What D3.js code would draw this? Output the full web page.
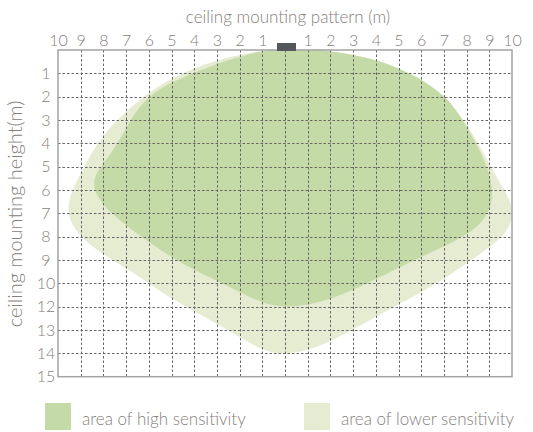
<!DOCTYPE html>
<html>
<head>
<meta charset="utf-8">
<script src="https://cdn.jsdelivr.net/npm/d3@7"></script>
<style>
  body { margin: 0; background: #fff; }
  svg text { font-family: "Lato", "Open Sans", sans-serif; font-weight: 300; fill: #86807c; }
</style>
</head>
<body>
<svg id="chart" width="533" height="432"></svg>
<script>
// horizontal distance from the sensor (m), -10 .. 10
const xTicks = d3.range(-10, 11);
// vertical rows: tick labels as printed (11 is skipped on the original)
const yLabels = ["1", "2", "3", "4", "5", "6", "7", "8", "9", "10", "12", "13", "14", "15"];

// outlines, x in m, y in grid rows from the ceiling
const highX = [0, 1.23, 2.73, 4.19, 5.51, 6.39, 7.14, 7.71, 8.46, 8.95, 9.15, 9.1, 8.8, 8.25, 7.55, 6.7, 5.64, 4.19, 2.73, 1.3, 0,
  -1.0, -1.89, -3.08, -4.27, -5.29, -6.3, -7.18, -7.93, -8.45, -8.4, -8.06, -7.49, -6.92, -6.48, -5.73, -4.85, -3.83, -2.51, -1.1];
const highY = [-0.1, -0.05, 0.15, 0.45, 0.99, 1.5, 2.06, 2.79, 4.07, 5.06, 5.95, 6.65, 7.25, 7.75, 8.15, 8.57, 9.02, 9.73, 10.42, 10.9, 11.05,
  10.85, 10.42, 9.86, 9.3, 8.7, 8.02, 7.37, 6.77, 6.0, 5.4, 4.93, 4.2, 3.21, 2.49, 1.76, 1.33, 0.9, 0.42, 0.05];

const lowX = [0, 1.89, 3.63, 5.2, 6.43, 7.18, 7.93, 8.63, 9.38, 9.85, 10.05, 9.95, 9.5, 8.65, 7.14, 5.64, 4.19, 2.73, 1.23, 0,
  -0.8, -1.63, -2.78, -3.96, -5.15, -6.3, -7.62, -8.7, -9.35, -9.6, -9.45, -9.03, -8.59, -7.93, -7.18, -6.17, -4.85, -3.3, -1.54];
const lowY = [-0.1, 0.02, 0.3, 0.85, 1.6, 2.19, 3.04, 4.2, 5.55, 6.3, 6.9, 7.5, 8.1, 8.7, 9.73, 10.59, 11.32, 12.13, 12.85, 13.05,
  12.95, 12.5, 11.87, 11.19, 10.59, 9.77, 9.0, 8.3, 7.6, 6.9, 6.15, 5.36, 4.5, 3.56, 2.79, 1.93, 1.11, 0.5, 0.1];

const legendLabels = ["area of high sensitivity", "area of lower sensitivity"];
const colors = ["#c4daa7", "#e6ecd1"];

const svg = d3.select("#chart");
const plot = { left: 58, right: 512, top: 50, bottom: 376.7 };

const x = d3.scaleLinear().domain([-10, 10]).range([plot.left, plot.right]);
const y = d3.scaleLinear().domain([0, yLabels.length]).range([plot.top, plot.bottom]);

const area = d3.line()
  .x(d => x(d[0]))
  .y(d => y(d[1]))
  .curve(d3.curveBasisClosed);

svg.append("clipPath").attr("id", "clip")
  .append("rect")
  .attr("x", plot.left).attr("y", plot.top)
  .attr("width", plot.right - plot.left + 6)
  .attr("height", plot.bottom - plot.top);

svg.append("path")
  .attr("d", area(d3.zip(lowX, lowY)))
  .attr("fill", colors[1])
  .attr("clip-path", "url(#clip)");

svg.append("path")
  .attr("d", area(d3.zip(highX, highY)))
  .attr("fill", colors[0])
  .attr("clip-path", "url(#clip)");

// dashed grid
const grid = svg.append("g")
  .attr("stroke", "#666")
  .attr("stroke-width", 1)
  .attr("stroke-dasharray", "2.5,2");

grid.selectAll(".v")
  .data(xTicks.slice(1, -1))
  .join("line")
  .attr("x1", d => Math.round(x(d)) + 0.5)
  .attr("x2", d => Math.round(x(d)) + 0.5)
  .attr("y1", plot.top)
  .attr("y2", plot.bottom);

grid.selectAll(".h")
  .data(d3.range(1, yLabels.length))
  .join("line")
  .attr("x1", plot.left)
  .attr("x2", plot.right)
  .attr("y1", d => Math.round(y(d)) + 0.5)
  .attr("y2", d => Math.round(y(d)) + 0.5);

svg.append("rect")
  .attr("x", plot.left)
  .attr("y", plot.top)
  .attr("width", plot.right - plot.left)
  .attr("height", plot.bottom - plot.top)
  .attr("fill", "none")
  .attr("stroke", "#a3a3a3")
  .attr("stroke-width", 1.5);

// sensor
svg.append("rect")
  .attr("x", x(0) - 8)
  .attr("y", plot.top - 7)
  .attr("width", 19)
  .attr("height", 8)
  .attr("fill", "#54585b");

// axes
const xAxis = svg.append("g")
  .attr("transform", `translate(0, ${plot.top})`)
  .call(d3.axisTop(x).tickValues(xTicks).tickSize(0).tickPadding(4)
    .tickFormat(d => d === 0 ? "" : Math.abs(d)));
xAxis.select(".domain").remove();
xAxis.selectAll("text")
  .attr("fill", null)
  .style("font-size", "16px");

const yAxis = svg.append("g")
  .attr("transform", `translate(${plot.left}, 0)`)
  .call(d3.axisLeft(y).tickValues(d3.range(1, yLabels.length + 1)).tickSize(0)
    .tickFormat(d => yLabels[d - 1]));
yAxis.select(".domain").remove();
yAxis.selectAll("text")
  .attr("fill", null)
  .attr("x", -12)
  .attr("text-anchor", "middle")
  .style("font-size", "16px");

svg.append("text")
  .attr("x", 288)
  .attr("y", 23)
  .attr("text-anchor", "middle")
  .style("font-size", "17px")
  .text("ceiling mounting pattern (m)");

svg.append("text")
  .attr("transform", "translate(22, 214) rotate(-90)")
  .attr("text-anchor", "middle")
  .style("font-size", "20px")
  .text("ceiling mounting height(m)");

// legend
const legend = svg.append("g")
  .selectAll("g")
  .data(legendLabels)
  .join("g")
  .attr("transform", (d, i) => `translate(${i === 0 ? 45 : 304}, 403)`);

legend.append("rect")
  .attr("width", 26)
  .attr("height", 27)
  .attr("fill", (d, i) => colors[i]);

legend.append("text")
  .attr("x", 37)
  .attr("y", 22)
  .style("font-size", "17px")
  .text(d => d);
</script>
</body>
</html>
